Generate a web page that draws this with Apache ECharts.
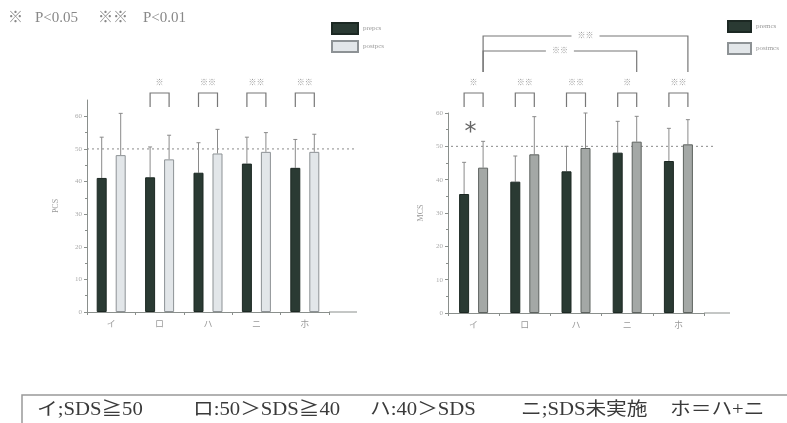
<!DOCTYPE html>
<html>
<head>
<meta charset="utf-8">
<script src="https://cdn.jsdelivr.net/npm/echarts@6/dist/echarts.min.js"></script>
<style>
  html, body { margin: 0; padding: 0; background: #fff; }
  #main { width: 787px; height: 423px; }
</style>
</head>
<body>
<div id="main"></div>
<script>
// 分類と各群の値
const categories = ['イ', 'ロ', 'ハ', 'ニ', 'ホ']
const pcsPre = [41.1, 41.3, 42.7, 45.5, 44.2]
const pcsPreUpper = [53.6, 50.6, 51.9, 53.6, 52.9]
const pcsPost = [48.1, 46.8, 48.6, 49.1, 49.1]
const pcsPostUpper = [60.9, 54.2, 56.0, 55.0, 54.5]
const mcsPre = [35.7, 39.4, 42.5, 48.1, 45.6]
const mcsPreUpper = [45.2, 47.1, 50.0, 57.5, 55.4]
const mcsPost = [43.6, 47.6, 49.5, 51.4, 50.6]
const mcsPostUpper = [51.5, 58.9, 60.0, 59.0, 58.0]
const yTicks = [0, 10, 20, 30, 40, 50, 60]
const refValue = 50
// 有意差の印
const pcsSig = ['', '※', '※※', '※※', '※※']
const mcsSig = ['※', '※※', '※※', '※', '※※']
const mcsLongSig = [[0, 3, 0, '※※'], [0, 4, 1, '※※']]
// 注記
const pNotes = ['※', 'P<0.05', '※※', 'P<0.01']
const notes = ['イ;SDS≧50', 'ロ:50＞SDS≧40', 'ハ:40＞SDS', 'ニ;SDS未実施', 'ホ＝ハ+ニ']

const serif = '"Liberation Serif", "DejaVu Serif", "Noto Sans CJK JP", serif'
const color = {
    dark: '#2a3a33',
    darkBorder: '#1c2823',
    lightL: '#e2e6e9',
    lightLBorder: '#8d9295',
    lightR: '#a4a8a6',
    lightRBorder: '#5d625f',
    err: '#8a8a8a',
    axis: '#8a8f8c',
    text: '#8a8a8a'
}
const half = 9.5

const chart = echarts.init(document.getElementById('main'))

// 誤差棒
function errorBar(offset) {
    return (params, api) => {
        const base = api.coord([api.value(0), api.value(1)])
        const top = api.coord([api.value(0), api.value(2)])
        const x = base[0] + offset
        const style = { stroke: color.err, lineWidth: 1 }
        return {
            type: 'group',
            children: [
                { type: 'line', shape: { x1: x, y1: base[1], x2: x, y2: top[1] }, style },
                { type: 'line', shape: { x1: x - 2, y1: top[1], x2: x + 2, y2: top[1] }, style }
            ]
        }
    }
}

// 群内（pre/post）の有意差ブラケット
function pairBracket(sig) {
    return (params, api) => {
        const label = sig[params.dataIndex]
        if (!label) return null
        const cx = api.coord([api.value(0), 0])[0]
        const x1 = cx - half, x2 = cx + half
        return {
            type: 'group',
            children: [
                {
                    type: 'polyline',
                    shape: { points: [[x1, 107], [x1, 93], [x2, 93], [x2, 107]] },
                    style: { stroke: '#777', lineWidth: 1.2, fill: null }
                },
                {
                    type: 'text',
                    style: {
                        x: cx, y: 83, text: label, align: 'center', verticalAlign: 'middle',
                        fill: '#999', font: '8px ' + serif
                    }
                }
            ]
        }
    }
}

// 群間の有意差ブラケット
function longBracket(params, api) {
    const row = mcsLongSig[params.dataIndex]
    const xa = api.coord([row[0], 0])[0] + half
    const xb = api.coord([row[1], 0])[0] + half
    const y = row[2] === 0 ? 51 : 36
    const mid = (xa + xb) / 2
    const style = { stroke: '#777', lineWidth: 1.2, fill: null }
    return {
        type: 'group',
        children: [
            { type: 'polyline', shape: { points: [[xa, 72], [xa, y], [mid - 14, y]] }, style },
            { type: 'polyline', shape: { points: [[mid + 14, y], [xb, y], [xb, 72]] }, style },
            {
                type: 'text',
                style: {
                    x: mid, y: y, text: row[3], align: 'center', verticalAlign: 'middle',
                    fill: '#999', font: '8px ' + serif
                }
            }
        ]
    }
}

function xAxisOf(gridIndex) {
    return {
        type: 'category',
        gridIndex,
        data: categories,
        axisLine: { lineStyle: { color: color.axis, width: 1 } },
        axisTick: { show: true, length: 3, lineStyle: { color: color.axis } },
        axisLabel: { color: '#999', fontSize: 9, fontFamily: serif, margin: 8 }
    }
}

function yAxisOf(gridIndex, max, name, nameGap) {
    return {
        type: 'value',
        gridIndex,
        min: 0,
        max,
        interval: 10,
        name,
        nameLocation: 'middle',
        nameRotate: 90,
        nameGap,
        nameTextStyle: { color: '#999', fontSize: 8, fontFamily: serif },
        axisLine: { show: true, lineStyle: { color: color.axis, width: 1 } },
        axisTick: { show: true, length: 3, customValues: yTicks, lineStyle: { color: color.axis } },
        minorTick: { show: true, splitNumber: 2, length: 2, lineStyle: { color: color.axis } },
        axisLabel: { color: '#aaa', fontSize: 7, fontFamily: serif, margin: 5, customValues: yTicks },
        splitLine: { show: false }
    }
}

const legendText = { color: '#999', fontSize: 7, fontFamily: serif }

const option = {
    backgroundColor: '#ffffff',
    animation: false,
    grid: [
        { left: 87, top: 100, width: 242, height: 212 },
        { left: 448, top: 113, width: 256, height: 200 }
    ],
    legend: [
        {
            orient: 'vertical', left: 326, top: 17, itemWidth: 26, itemHeight: 11, itemGap: 5,
            icon: 'rect', textStyle: legendText,
            data: ['prepcs', 'postpcs']
        },
        {
            orient: 'vertical', left: 722, top: 15, itemWidth: 23, itemHeight: 11, itemGap: 9,
            icon: 'rect', textStyle: legendText,
            data: ['premcs', { name: 'postmcs', itemStyle: { color: color.lightL, borderColor: color.lightLBorder } }]
        }
    ],
    xAxis: [xAxisOf(0), xAxisOf(1)],
    yAxis: [yAxisOf(0, 65, 'PCS', 27), yAxisOf(1, 60, 'MCS', 23)],
    series: [
        {
            name: 'prepcs', type: 'bar', xAxisIndex: 0, yAxisIndex: 0, data: pcsPre,
            barWidth: 10, barGap: '90%',
            itemStyle: { color: color.dark, borderColor: color.darkBorder, borderWidth: 1 }
        },
        {
            name: 'postpcs', type: 'bar', xAxisIndex: 0, yAxisIndex: 0, data: pcsPost,
            barWidth: 10, barGap: '90%',
            itemStyle: { color: color.lightL, borderColor: color.lightLBorder, borderWidth: 1 }
        },
        {
            name: 'premcs', type: 'bar', xAxisIndex: 1, yAxisIndex: 1, data: mcsPre,
            barWidth: 10, barGap: '90%',
            itemStyle: { color: color.dark, borderColor: color.darkBorder, borderWidth: 1 }
        },
        {
            name: 'postmcs', type: 'bar', xAxisIndex: 1, yAxisIndex: 1, data: mcsPost,
            barWidth: 10, barGap: '90%',
            itemStyle: { color: color.lightR, borderColor: color.lightRBorder, borderWidth: 1 }
        },
        {
            type: 'custom', xAxisIndex: 0, yAxisIndex: 0, renderItem: errorBar(-half), z: 1,
            encode: { x: 0, y: [1, 2] },
            data: pcsPre.map((v, i) => [i, v, pcsPreUpper[i]])
        },
        {
            type: 'custom', xAxisIndex: 0, yAxisIndex: 0, renderItem: errorBar(half), z: 1,
            encode: { x: 0, y: [1, 2] },
            data: pcsPost.map((v, i) => [i, v, pcsPostUpper[i]])
        },
        {
            type: 'custom', xAxisIndex: 1, yAxisIndex: 1, renderItem: errorBar(-half), z: 1,
            encode: { x: 0, y: [1, 2] },
            data: mcsPre.map((v, i) => [i, v, mcsPreUpper[i]])
        },
        {
            type: 'custom', xAxisIndex: 1, yAxisIndex: 1, renderItem: errorBar(half), z: 1,
            encode: { x: 0, y: [1, 2] },
            data: mcsPost.map((v, i) => [i, v, mcsPostUpper[i]])
        },
        {
            type: 'custom', xAxisIndex: 0, yAxisIndex: 0, renderItem: pairBracket(pcsSig), clip: false,
            encode: { x: 0, y: 1 },
            data: pcsSig.map((s, i) => [i, 0])
        },
        {
            type: 'custom', xAxisIndex: 1, yAxisIndex: 1, renderItem: pairBracket(mcsSig), clip: false,
            encode: { x: 0, y: 1 },
            data: mcsSig.map((s, i) => [i, 0])
        },
        {
            type: 'custom', xAxisIndex: 1, yAxisIndex: 1, renderItem: longBracket, clip: false,
            encode: { x: 0, y: 1 },
            data: mcsLongSig.map((r) => [r[0], 0])
        }
    ]
}
chart.setOption(option)

// 基準線（50）と軸の延長、注記
const yL0 = chart.convertToPixel({ yAxisIndex: 0 }, 0)
const yL50 = chart.convertToPixel({ yAxisIndex: 0 }, refValue)
const yR0 = chart.convertToPixel({ yAxisIndex: 1 }, 0)
const yR50 = chart.convertToPixel({ yAxisIndex: 1 }, refValue)
const starX = chart.convertToPixel({ xAxisIndex: 1 }, 0)
const starY = chart.convertToPixel({ yAxisIndex: 1 }, 54)
const dotted = { stroke: '#8a8a8a', lineWidth: 1, lineDash: [2, 3] }
const pNoteX = [8, 35, 98, 143]
const noteX = [37, 193, 370, 521, 670]

chart.setOption({
    graphic: [
        { type: 'line', z: 0, shape: { x1: 87, y1: yL50, x2: 357, y2: yL50 }, style: dotted },
        { type: 'line', z: 0, shape: { x1: 451, y1: yR50, x2: 713, y2: yR50 }, style: dotted },
        { type: 'line', shape: { x1: 329, y1: yL0, x2: 357, y2: yL0 }, style: { stroke: color.axis, lineWidth: 1 } },
        { type: 'line', shape: { x1: 704, y1: yR0, x2: 730, y2: yR0 }, style: { stroke: color.axis, lineWidth: 1 } },
        {
            type: 'text', x: starX - 3, y: starY,
            style: { text: '*', fill: '#666', font: '24px "DejaVu Sans", sans-serif', align: 'center', verticalAlign: 'middle' }
        },
        ...pNotes.map((t, i) => ({
            type: 'text', x: pNoteX[i], y: 18,
            style: { text: t, fill: '#888', font: '15px ' + serif, verticalAlign: 'middle' }
        })),
        {
            type: 'rect', shape: { x: 22, y: 395, width: 800, height: 60 },
            style: { fill: null, stroke: '#999', lineWidth: 1.5 }
        },
        ...notes.map((t, i) => ({
            type: 'text', x: noteX[i], y: 410, scaleX: 1.15,
            style: { text: t, fill: '#3a3a3a', font: '18px ' + serif, verticalAlign: 'middle' }
        }))
    ]
})
</script>
</body>
</html>
